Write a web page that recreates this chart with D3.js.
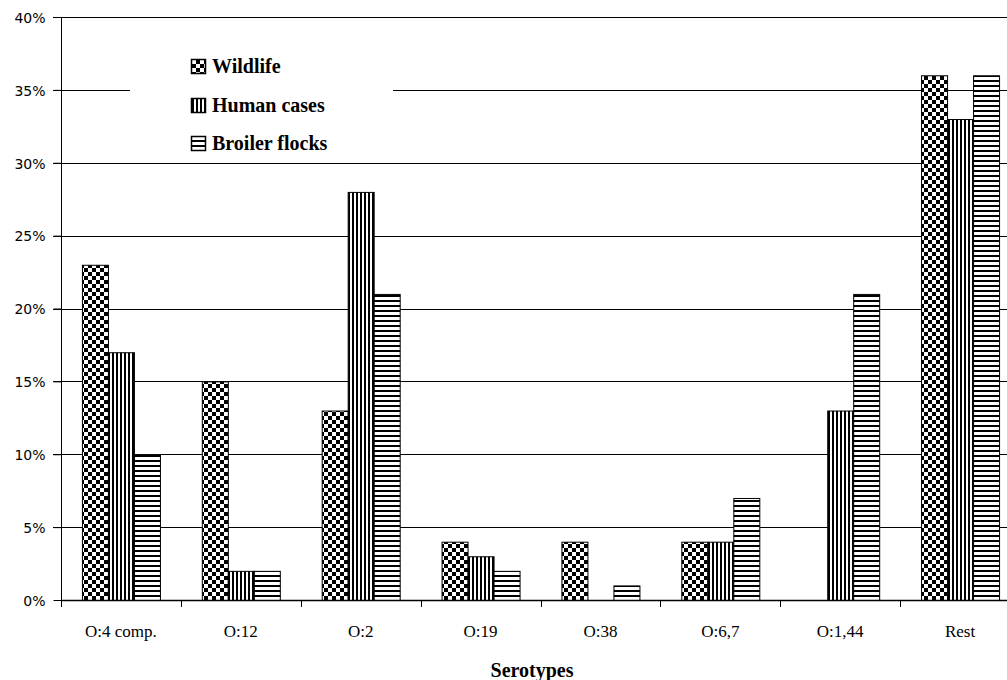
<!DOCTYPE html>
<html><head><meta charset="utf-8">
<script src="https://cdn.jsdelivr.net/npm/d3@7"></script>
<style>body{margin:0;background:#fff;}svg{display:block;}</style>
</head><body>
<svg id="chart" width="1007" height="680"></svg>
<script>
const categories = ["O:4 comp.", "O:12", "O:2", "O:19", "O:38", "O:6,7", "O:1,44", "Rest"];
const seriesNames = ["Wildlife", "Human cases", "Broiler flocks"];
const wildlife = [23, 15, 13, 4, 4, 4, 0, 36];
const human = [17, 2, 28, 3, 0, 4, 13, 33];
const broiler = [10, 2, 21, 2, 1, 7, 21, 36];
const yTicks = [0, 5, 10, 15, 20, 25, 30, 35, 40];
const seriesValues = [wildlife, human, broiler];
const patternIds = ["pChecker", "pVert", "pHoriz"];

const svg = d3.select("#chart");
const defs = svg.append("defs");

// checkerboard
const pc = defs.append("pattern").attr("id", "pChecker").attr("patternUnits", "userSpaceOnUse")
  .attr("width", 8).attr("height", 8);
pc.append("rect").attr("width", 8).attr("height", 8).attr("fill", "#fff");
pc.append("rect").attr("width", 4).attr("height", 4).attr("fill", "#000");
pc.append("rect").attr("x", 4).attr("y", 4).attr("width", 4).attr("height", 4).attr("fill", "#000");
// vertical stripes
const pv = defs.append("pattern").attr("id", "pVert").attr("patternUnits", "userSpaceOnUse")
  .attr("width", 4).attr("height", 4);
pv.append("rect").attr("width", 4).attr("height", 4).attr("fill", "#fff");
pv.append("rect").attr("width", 2).attr("height", 4).attr("fill", "#000");
// horizontal stripes
const ph = defs.append("pattern").attr("id", "pHoriz").attr("patternUnits", "userSpaceOnUse")
  .attr("width", 5).attr("height", 5);
ph.append("rect").attr("width", 5).attr("height", 5).attr("fill", "#fff");
ph.append("rect").attr("width", 5).attr("height", 2).attr("fill", "#000");

const pLeft = 61, pRight = 1020, pTop = 17, pBottom = 600;
const x = d3.scaleBand().domain(categories).range([pLeft, pRight]).paddingInner(0).paddingOuter(0);
const y = d3.scaleLinear().domain([0, 40]).range([pBottom, pTop]);
const barW = 26;
const xs = d3.scaleBand().domain(seriesNames).range([0, barW * 3]);

// gridlines
svg.append("g").selectAll("line").data(yTicks.filter(d => d > 0)).join("line")
  .attr("x1", pLeft - 8).attr("x2", pRight)
  .attr("y1", d => Math.round(y(d)) + 0.5).attr("y2", d => Math.round(y(d)) + 0.5)
  .attr("stroke", "#000").attr("stroke-width", 1);

// legend background (covers gridline)
svg.append("rect").attr("x", 130).attr("y", 45).attr("width", 263).attr("height", 113).attr("fill", "#fff");

// bars
seriesValues.forEach((vals, si) => {
  svg.append("g").selectAll("rect").data(categories).join("rect")
    .attr("x", (c) => x(c) + (x.bandwidth() - barW * 3) / 2 + xs(seriesNames[si]) + 0.5)
    .attr("y", (c, i) => y(vals[i]) + 0.5)
    .attr("width", barW)
    .attr("height", (c, i) => Math.max(0, pBottom - y(vals[i])))
    .attr("fill", `url(#${patternIds[si]})`)
    .attr("stroke", "#000").attr("stroke-width", 1)
    .style("display", (c, i) => vals[i] > 0 ? null : "none");
});

// y axis
const yAxis = d3.axisLeft(y).tickValues(yTicks).tickSize(8).tickFormat(d => d + "%");
const gy = svg.append("g").attr("transform", `translate(${pLeft + 0.5},0)`).call(yAxis);
gy.select(".domain").attr("d", `M0,${pTop}V${pBottom + 7}`);
gy.selectAll("text").style("font-family", "'DejaVu Sans'").style("font-size", "14px").attr("x", -16).attr("dy", "0.38em").attr("fill", "#000");
gy.selectAll("line").attr("stroke", "#000");

// x axis
svg.append("line").attr("x1", pLeft).attr("x2", pRight).attr("y1", pBottom + 0.5).attr("y2", pBottom + 0.5)
  .attr("stroke", "#000").attr("stroke-width", 1.5);
const xAxis = d3.axisBottom(x).tickSize(0).tickPadding(0);
const gx = svg.append("g").attr("transform", `translate(0,${pBottom})`).call(xAxis);
gx.select(".domain").remove();
gx.selectAll("text").style("font-family", "'Liberation Serif'").style("font-size", "17px").attr("y", 37).attr("dy", 0).attr("fill", "#000");
svg.append("g").selectAll("line").data(categories.slice(1)).join("line")
  .attr("x1", c => Math.round(x(c)) + 0.5).attr("x2", c => Math.round(x(c)) + 0.5)
  .attr("y1", pBottom).attr("y2", pBottom + 7).attr("stroke", "#000");

// x title
svg.append("text").attr("x", 532).attr("y", 677).attr("text-anchor", "middle")
  .style("font-family", "'Liberation Serif'").style("font-weight", "bold").style("font-size", "20px").text("Serotypes");

// legend
const lg = svg.append("g");
const legY = [59, 98, 136];
seriesNames.forEach((s, i) => {
  lg.append("rect").attr("x", 191.5).attr("y", legY[i] + 0.5).attr("width", 14).attr("height", 14)
    .attr("fill", `url(#${patternIds[i]})`).attr("stroke", "#000").attr("stroke-width", 1.5);
  lg.append("text").attr("x", 212).attr("y", legY[i] + 14).style("font-family", "'Liberation Serif'")
    .style("font-weight", "bold").style("font-size", "20px").text(s);
});
</script>
</body></html>
